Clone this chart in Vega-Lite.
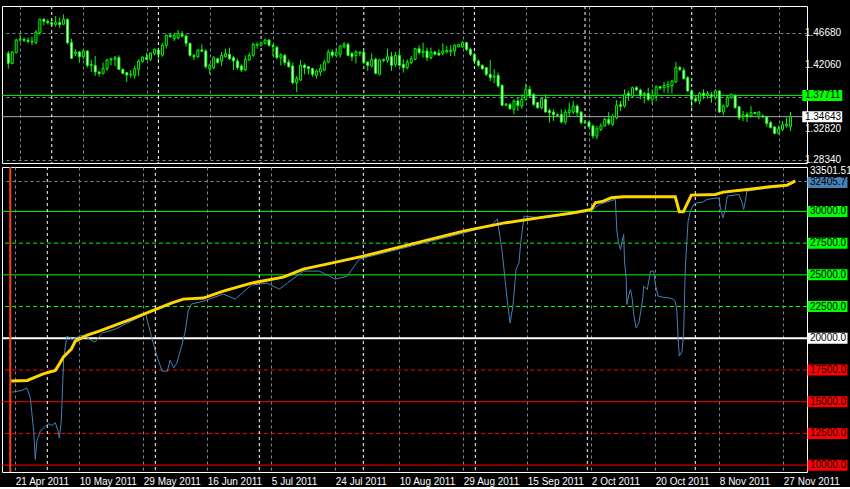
{
"$schema": "https://vega.github.io/schema/vega-lite/v6.json",
"background": "#000000",
"padding": {"left": 0, "top": 5, "right": 0, "bottom": 0},
"spacing": 4,
"bounds": "flush",
"config": {
  "view": {"stroke": "#FFFFFF", "strokeWidth": 1, "fill": "#000000"},
  "font": "Liberation Sans",
  "axis": {"labelFont": "Liberation Sans", "labelFontSize": 10, "labelColor": "#FFFFFF", "domain": false, "ticks": false, "gridColor": "#778899", "gridDash": [3, 3], "gridWidth": 1, "gridOpacity": 1}
},
"resolve": {"scale": {"x": "independent", "y": "independent"}},
"datasets": {
  "candles": [
{"i":-3,"o":1.4378,"h":1.4413,"l":1.4157,"c":1.4234},
{"i":-2,"o":1.4234,"h":1.4413,"l":1.4220,"c":1.4398},
{"i":-1,"o":1.4388,"h":1.4590,"l":1.4378,"c":1.4571},
{"i":0,"o":1.4571,"h":1.4653,"l":1.4542,"c":1.4581},
{"i":1,"o":1.4581,"h":1.4605,"l":1.4542,"c":1.4567},
{"i":2,"o":1.4567,"h":1.4605,"l":1.4523,"c":1.4552},
{"i":3,"o":1.4552,"h":1.4619,"l":1.4494,"c":1.4542},
{"i":4,"o":1.4533,"h":1.4715,"l":1.4509,"c":1.4686},
{"i":5,"o":1.4677,"h":1.4879,"l":1.4638,"c":1.4870},
{"i":6,"o":1.4870,"h":1.4889,"l":1.4783,"c":1.4841},
{"i":7,"o":1.4841,"h":1.4870,"l":1.4798,"c":1.4822},
{"i":8,"o":1.4822,"h":1.4879,"l":1.4773,"c":1.4793},
{"i":9,"o":1.4798,"h":1.4918,"l":1.4763,"c":1.4822},
{"i":10,"o":1.4822,"h":1.4894,"l":1.4744,"c":1.4793},
{"i":11,"o":1.4798,"h":1.4942,"l":1.4788,"c":1.4870},
{"i":12,"o":1.4870,"h":1.4879,"l":1.4509,"c":1.4533},
{"i":13,"o":1.4533,"h":1.4590,"l":1.4301,"c":1.4306},
{"i":14,"o":1.4374,"h":1.4437,"l":1.4340,"c":1.4398},
{"i":15,"o":1.4398,"h":1.4413,"l":1.4244,"c":1.4330},
{"i":16,"o":1.4330,"h":1.4446,"l":1.4292,"c":1.4413},
{"i":17,"o":1.4413,"h":1.4423,"l":1.4172,"c":1.4205},
{"i":18,"o":1.4205,"h":1.4282,"l":1.4109,"c":1.4220},
{"i":19,"o":1.4205,"h":1.4340,"l":1.4052,"c":1.4109},
{"i":20,"o":1.4109,"h":1.4124,"l":1.4042,"c":1.4086},
{"i":21,"o":1.4086,"h":1.4244,"l":1.4076,"c":1.4162},
{"i":22,"o":1.4157,"h":1.4301,"l":1.4124,"c":1.4282},
{"i":23,"o":1.4282,"h":1.4316,"l":1.4205,"c":1.4301},
{"i":24,"o":1.4292,"h":1.4340,"l":1.4196,"c":1.4316},
{"i":25,"o":1.4316,"h":1.4349,"l":1.4138,"c":1.4148},
{"i":26,"o":1.4148,"h":1.4157,"l":1.4076,"c":1.4090},
{"i":27,"o":1.4100,"h":1.4109,"l":1.3964,"c":1.4066},
{"i":28,"o":1.4066,"h":1.4138,"l":1.4028,"c":1.4076},
{"i":29,"o":1.4061,"h":1.4196,"l":1.4013,"c":1.4157},
{"i":30,"o":1.4148,"h":1.4292,"l":1.4052,"c":1.4268},
{"i":31,"o":1.4263,"h":1.4330,"l":1.4244,"c":1.4326},
{"i":32,"o":1.4316,"h":1.4388,"l":1.4282,"c":1.4292},
{"i":33,"o":1.4292,"h":1.4388,"l":1.4268,"c":1.4383},
{"i":34,"o":1.4378,"h":1.4446,"l":1.4349,"c":1.4437},
{"i":35,"o":1.4427,"h":1.4461,"l":1.4268,"c":1.4364},
{"i":36,"o":1.4354,"h":1.4533,"l":1.4330,"c":1.4494},
{"i":37,"o":1.4494,"h":1.4653,"l":1.4446,"c":1.4638},
{"i":38,"o":1.4638,"h":1.4667,"l":1.4605,"c":1.4619},
{"i":39,"o":1.4590,"h":1.4677,"l":1.4557,"c":1.4638},
{"i":40,"o":1.4605,"h":1.4715,"l":1.4581,"c":1.4663},
{"i":41,"o":1.4653,"h":1.4701,"l":1.4605,"c":1.4629},
{"i":42,"o":1.4629,"h":1.4653,"l":1.4475,"c":1.4523},
{"i":43,"o":1.4523,"h":1.4533,"l":1.4330,"c":1.4349},
{"i":44,"o":1.4349,"h":1.4364,"l":1.4282,"c":1.4330},
{"i":45,"o":1.4330,"h":1.4437,"l":1.4316,"c":1.4427},
{"i":46,"o":1.4427,"h":1.4509,"l":1.4398,"c":1.4408},
{"i":47,"o":1.4413,"h":1.4437,"l":1.4157,"c":1.4186},
{"i":48,"o":1.4157,"h":1.4234,"l":1.4076,"c":1.4205},
{"i":49,"o":1.4172,"h":1.4340,"l":1.4148,"c":1.4316},
{"i":50,"o":1.4301,"h":1.4316,"l":1.4234,"c":1.4244},
{"i":51,"o":1.4268,"h":1.4398,"l":1.4196,"c":1.4349},
{"i":52,"o":1.4330,"h":1.4446,"l":1.4316,"c":1.4374},
{"i":53,"o":1.4364,"h":1.4461,"l":1.4282,"c":1.4301},
{"i":54,"o":1.4316,"h":1.4340,"l":1.4138,"c":1.4268},
{"i":55,"o":1.4268,"h":1.4301,"l":1.4138,"c":1.4172},
{"i":56,"o":1.4196,"h":1.4220,"l":1.4109,"c":1.4138},
{"i":57,"o":1.4138,"h":1.4349,"l":1.4124,"c":1.4292},
{"i":58,"o":1.4282,"h":1.4388,"l":1.4268,"c":1.4349},
{"i":59,"o":1.4349,"h":1.4533,"l":1.4330,"c":1.4509},
{"i":60,"o":1.4494,"h":1.4533,"l":1.4446,"c":1.4514},
{"i":61,"o":1.4494,"h":1.4542,"l":1.4475,"c":1.4533},
{"i":62,"o":1.4523,"h":1.4590,"l":1.4509,"c":1.4571},
{"i":63,"o":1.4571,"h":1.4581,"l":1.4475,"c":1.4494},
{"i":64,"o":1.4494,"h":1.4509,"l":1.4340,"c":1.4475},
{"i":65,"o":1.4466,"h":1.4485,"l":1.4292,"c":1.4316},
{"i":66,"o":1.4316,"h":1.4378,"l":1.4205,"c":1.4354},
{"i":67,"o":1.4349,"h":1.4374,"l":1.4205,"c":1.4244},
{"i":68,"o":1.4253,"h":1.4292,"l":1.4172,"c":1.4186},
{"i":69,"o":1.4196,"h":1.4244,"l":1.3931,"c":1.3955},
{"i":70,"o":1.3955,"h":1.4052,"l":1.3820,"c":1.4013},
{"i":71,"o":1.3993,"h":1.4282,"l":1.3979,"c":1.4205},
{"i":72,"o":1.4210,"h":1.4234,"l":1.4076,"c":1.4172},
{"i":73,"o":1.4186,"h":1.4196,"l":1.4076,"c":1.4157},
{"i":74,"o":1.4157,"h":1.4172,"l":1.4042,"c":1.4076},
{"i":75,"o":1.4061,"h":1.4148,"l":1.4013,"c":1.4124},
{"i":76,"o":1.4109,"h":1.4220,"l":1.4052,"c":1.4157},
{"i":77,"o":1.4138,"h":1.4282,"l":1.4124,"c":1.4253},
{"i":78,"o":1.4253,"h":1.4437,"l":1.4234,"c":1.4398},
{"i":79,"o":1.4398,"h":1.4437,"l":1.4316,"c":1.4349},
{"i":80,"o":1.4349,"h":1.4461,"l":1.4330,"c":1.4388},
{"i":81,"o":1.4364,"h":1.4494,"l":1.4316,"c":1.4485},
{"i":82,"o":1.4475,"h":1.4542,"l":1.4446,"c":1.4509},
{"i":83,"o":1.4509,"h":1.4533,"l":1.4340,"c":1.4349},
{"i":84,"o":1.4374,"h":1.4398,"l":1.4268,"c":1.4330},
{"i":85,"o":1.4349,"h":1.4427,"l":1.4234,"c":1.4398},
{"i":86,"o":1.4378,"h":1.4408,"l":1.4340,"c":1.4398},
{"i":87,"o":1.4398,"h":1.4413,"l":1.4220,"c":1.4244},
{"i":88,"o":1.4253,"h":1.4268,"l":1.4124,"c":1.4205},
{"i":89,"o":1.4196,"h":1.4378,"l":1.4172,"c":1.4292},
{"i":90,"o":1.4292,"h":1.4316,"l":1.4076,"c":1.4090},
{"i":91,"o":1.4076,"h":1.4301,"l":1.4061,"c":1.4282},
{"i":92,"o":1.4273,"h":1.4301,"l":1.4253,"c":1.4292},
{"i":93,"o":1.4278,"h":1.4446,"l":1.4244,"c":1.4330},
{"i":94,"o":1.4330,"h":1.4398,"l":1.4124,"c":1.4205},
{"i":95,"o":1.4220,"h":1.4398,"l":1.4186,"c":1.4349},
{"i":96,"o":1.4349,"h":1.4413,"l":1.4196,"c":1.4205},
{"i":97,"o":1.4220,"h":1.4292,"l":1.4100,"c":1.4172},
{"i":98,"o":1.4172,"h":1.4292,"l":1.4148,"c":1.4253},
{"i":99,"o":1.4244,"h":1.4340,"l":1.4220,"c":1.4301},
{"i":100,"o":1.4292,"h":1.4461,"l":1.4282,"c":1.4446},
{"i":101,"o":1.4446,"h":1.4494,"l":1.4364,"c":1.4388},
{"i":102,"o":1.4388,"h":1.4533,"l":1.4316,"c":1.4413},
{"i":103,"o":1.4413,"h":1.4461,"l":1.4268,"c":1.4316},
{"i":104,"o":1.4316,"h":1.4461,"l":1.4292,"c":1.4398},
{"i":105,"o":1.4398,"h":1.4408,"l":1.4349,"c":1.4364},
{"i":106,"o":1.4383,"h":1.4437,"l":1.4340,"c":1.4354},
{"i":107,"o":1.4378,"h":1.4523,"l":1.4349,"c":1.4413},
{"i":108,"o":1.4398,"h":1.4485,"l":1.4378,"c":1.4418},
{"i":109,"o":1.4403,"h":1.4494,"l":1.4340,"c":1.4423},
{"i":110,"o":1.4413,"h":1.4509,"l":1.4340,"c":1.4494},
{"i":111,"o":1.4475,"h":1.4514,"l":1.4466,"c":1.4504},
{"i":112,"o":1.4471,"h":1.4557,"l":1.4461,"c":1.4533},
{"i":113,"o":1.4533,"h":1.4542,"l":1.4413,"c":1.4437},
{"i":114,"o":1.4437,"h":1.4461,"l":1.4340,"c":1.4364},
{"i":115,"o":1.4364,"h":1.4388,"l":1.4220,"c":1.4268},
{"i":116,"o":1.4268,"h":1.4292,"l":1.4186,"c":1.4205},
{"i":117,"o":1.4205,"h":1.4220,"l":1.4138,"c":1.4157},
{"i":118,"o":1.4172,"h":1.4182,"l":1.4052,"c":1.4076},
{"i":119,"o":1.4076,"h":1.4282,"l":1.3979,"c":1.4028},
{"i":120,"o":1.4033,"h":1.4148,"l":1.3945,"c":1.4052},
{"i":121,"o":1.4061,"h":1.4100,"l":1.3883,"c":1.3907},
{"i":122,"o":1.3916,"h":1.3931,"l":1.3618,"c":1.3627},
{"i":123,"o":1.3627,"h":1.3656,"l":1.3618,"c":1.3647},
{"i":124,"o":1.3642,"h":1.3656,"l":1.3560,"c":1.3579},
{"i":125,"o":1.3570,"h":1.3715,"l":1.3498,"c":1.3691},
{"i":126,"o":1.3691,"h":1.3739,"l":1.3546,"c":1.3627},
{"i":127,"o":1.3618,"h":1.3787,"l":1.3579,"c":1.3715},
{"i":128,"o":1.3715,"h":1.3945,"l":1.3691,"c":1.3859},
{"i":129,"o":1.3859,"h":1.3907,"l":1.3753,"c":1.3763},
{"i":130,"o":1.3787,"h":1.3801,"l":1.3618,"c":1.3642},
{"i":131,"o":1.3666,"h":1.3676,"l":1.3579,"c":1.3594},
{"i":132,"o":1.3594,"h":1.3739,"l":1.3570,"c":1.3724},
{"i":133,"o":1.3715,"h":1.3787,"l":1.3522,"c":1.3531},
{"i":134,"o":1.3551,"h":1.3579,"l":1.3378,"c":1.3522},
{"i":135,"o":1.3531,"h":1.3570,"l":1.3402,"c":1.3493},
{"i":136,"o":1.3493,"h":1.3512,"l":1.3474,"c":1.3483},
{"i":137,"o":1.3498,"h":1.3570,"l":1.3368,"c":1.3387},
{"i":138,"o":1.3387,"h":1.3570,"l":1.3354,"c":1.3531},
{"i":139,"o":1.3522,"h":1.3666,"l":1.3474,"c":1.3560},
{"i":140,"o":1.3531,"h":1.3691,"l":1.3498,"c":1.3618},
{"i":141,"o":1.3618,"h":1.3642,"l":1.3474,"c":1.3522},
{"i":142,"o":1.3531,"h":1.3546,"l":1.3354,"c":1.3378},
{"i":143,"o":1.3387,"h":1.3402,"l":1.3368,"c":1.3373},
{"i":144,"o":1.3387,"h":1.3402,"l":1.3306,"c":1.3320},
{"i":145,"o":1.3330,"h":1.3354,"l":1.3146,"c":1.3185},
{"i":146,"o":1.3185,"h":1.3330,"l":1.3137,"c":1.3291},
{"i":147,"o":1.3281,"h":1.3368,"l":1.3257,"c":1.3330},
{"i":148,"o":1.3330,"h":1.3450,"l":1.3320,"c":1.3426},
{"i":149,"o":1.3426,"h":1.3531,"l":1.3339,"c":1.3368},
{"i":150,"o":1.3354,"h":1.3498,"l":1.3330,"c":1.3474},
{"i":151,"o":1.3450,"h":1.3705,"l":1.3426,"c":1.3627},
{"i":152,"o":1.3637,"h":1.3691,"l":1.3546,"c":1.3613},
{"i":153,"o":1.3618,"h":1.3859,"l":1.3594,"c":1.3787},
{"i":154,"o":1.3801,"h":1.3835,"l":1.3691,"c":1.3763},
{"i":155,"o":1.3763,"h":1.3897,"l":1.3739,"c":1.3883},
{"i":156,"o":1.3883,"h":1.3907,"l":1.3835,"c":1.3849},
{"i":157,"o":1.3849,"h":1.3868,"l":1.3715,"c":1.3772},
{"i":158,"o":1.3782,"h":1.3820,"l":1.3656,"c":1.3801},
{"i":159,"o":1.3801,"h":1.3883,"l":1.3691,"c":1.3715},
{"i":160,"o":1.3715,"h":1.3859,"l":1.3642,"c":1.3772},
{"i":161,"o":1.3763,"h":1.3916,"l":1.3691,"c":1.3897},
{"i":162,"o":1.3897,"h":1.3907,"l":1.3849,"c":1.3878},
{"i":163,"o":1.3883,"h":1.3964,"l":1.3811,"c":1.3916},
{"i":164,"o":1.3897,"h":1.3979,"l":1.3801,"c":1.3931},
{"i":165,"o":1.3907,"h":1.3993,"l":1.3801,"c":1.3979},
{"i":166,"o":1.3964,"h":1.4253,"l":1.3955,"c":1.4172},
{"i":167,"o":1.4172,"h":1.4196,"l":1.4124,"c":1.4148},
{"i":168,"o":1.4134,"h":1.4172,"l":1.4003,"c":1.4013},
{"i":169,"o":1.4028,"h":1.4052,"l":1.3820,"c":1.3835},
{"i":170,"o":1.3835,"h":1.3859,"l":1.3594,"c":1.3715},
{"i":171,"o":1.3724,"h":1.3763,"l":1.3666,"c":1.3691},
{"i":172,"o":1.3691,"h":1.3820,"l":1.3642,"c":1.3801},
{"i":173,"o":1.3801,"h":1.3859,"l":1.3715,"c":1.3772},
{"i":174,"o":1.3772,"h":1.3835,"l":1.3724,"c":1.3797},
{"i":175,"o":1.3782,"h":1.3820,"l":1.3666,"c":1.3753},
{"i":176,"o":1.3739,"h":1.3859,"l":1.3715,"c":1.3835},
{"i":177,"o":1.3835,"h":1.3849,"l":1.3522,"c":1.3531},
{"i":178,"o":1.3531,"h":1.3642,"l":1.3483,"c":1.3618},
{"i":179,"o":1.3618,"h":1.3772,"l":1.3594,"c":1.3739},
{"i":180,"o":1.3739,"h":1.3801,"l":1.3724,"c":1.3787},
{"i":181,"o":1.3772,"h":1.3787,"l":1.3579,"c":1.3594},
{"i":182,"o":1.3608,"h":1.3618,"l":1.3416,"c":1.3450},
{"i":183,"o":1.3464,"h":1.3546,"l":1.3402,"c":1.3493},
{"i":184,"o":1.3493,"h":1.3531,"l":1.3387,"c":1.3464},
{"i":185,"o":1.3474,"h":1.3618,"l":1.3450,"c":1.3522},
{"i":186,"o":1.3527,"h":1.3531,"l":1.3498,"c":1.3508},
{"i":187,"o":1.3464,"h":1.3546,"l":1.3426,"c":1.3531},
{"i":188,"o":1.3474,"h":1.3498,"l":1.3450,"c":1.3460},
{"i":189,"o":1.3460,"h":1.3474,"l":1.3320,"c":1.3368},
{"i":190,"o":1.3378,"h":1.3402,"l":1.3291,"c":1.3306},
{"i":191,"o":1.3316,"h":1.3330,"l":1.3209,"c":1.3223},
{"i":192,"o":1.3223,"h":1.3339,"l":1.3209,"c":1.3291},
{"i":193,"o":1.3281,"h":1.3402,"l":1.3257,"c":1.3349},
{"i":194,"o":1.3330,"h":1.3450,"l":1.3306,"c":1.3354},
{"i":195,"o":1.3320,"h":1.3531,"l":1.3257,"c":1.3464}
  ],
  "balance": [
{"t":-1,"v":16623},{"t":3,"v":16678},{"t":5,"v":16938},{"t":7,"v":17198},{"t":10,"v":17466},{"t":11,"v":17963},{"t":12,"v":18514},{"t":14,"v":19145},{"t":15,"v":19776},{"t":18,"v":20249},{"t":21,"v":20564},{"t":29,"v":21510},{"t":34,"v":22141},{"t":39,"v":22771},{"t":42,"v":23087},{"t":47,"v":23166},{"t":52,"v":23717},{"t":59,"v":24348},{"t":67,"v":24821},{"t":72,"v":25452},{"t":79,"v":25925},{"t":87,"v":26476},{"t":97,"v":27265},{"t":104,"v":27816},{"t":112,"v":28447},{"t":122,"v":29078},{"t":132,"v":29551},{"t":139,"v":29866},{"t":144,"v":30158},{"t":145,"v":30678},{"t":147,"v":30812},{"t":149,"v":31072},{"t":152,"v":31151},{"t":165,"v":31151},{"t":166,"v":29968},{"t":167,"v":29968},{"t":169,"v":31285},{"t":175,"v":31340},{"t":177,"v":31521},{"t":183,"v":31734},{"t":188,"v":31916},{"t":193,"v":32073},{"t":195,"v":32405.7}
  ],
  "equity": [
{"t":-0.8,"v":15756},{"t":1.7,"v":15889},{"t":2.9,"v":16094},{"t":3.75,"v":15306},{"t":4.6,"v":12681},{"t":5.0,"v":10450},{"t":5.4,"v":11893},{"t":6.25,"v":12681},{"t":7.5,"v":13075},{"t":8.35,"v":13257},{"t":9.2,"v":13130},{"t":10,"v":13335},{"t":10.7,"v":12681},{"t":11,"v":12153},{"t":11.5,"v":13469},{"t":12.1,"v":18459},{"t":12.9,"v":20170},{"t":14.2,"v":19910},{"t":16.7,"v":20249},{"t":19.9,"v":19697},{"t":21.7,"v":20406},{"t":25,"v":20722},{"t":29,"v":21352},{"t":32.6,"v":21904},{"t":34,"v":20170},{"t":35.4,"v":18593},{"t":36.7,"v":17411},{"t":38,"v":17411},{"t":38.7,"v":18278},{"t":39.6,"v":17671},{"t":40.4,"v":18065},{"t":41.7,"v":19539},{"t":42.5,"v":20564},{"t":43.2,"v":22141},{"t":44,"v":22692},{"t":47,"v":22929},{"t":52,"v":23481},{"t":55,"v":23087},{"t":59,"v":24190},{"t":63,"v":24348},{"t":66,"v":23875},{"t":68,"v":24348},{"t":72,"v":25294},{"t":76,"v":25294},{"t":80,"v":24663},{"t":83,"v":24900},{"t":86,"v":26240},{"t":90,"v":26555},{"t":97,"v":27107},{"t":104,"v":27659},{"t":112,"v":28290},{"t":119,"v":28920},{"t":120.5,"v":29393},{"t":121.7,"v":26870},{"t":123,"v":22929},{"t":123.7,"v":21195},{"t":124.4,"v":22535},{"t":125.2,"v":25452},{"t":125.9,"v":25925},{"t":126.4,"v":27659},{"t":127.2,"v":29629},{"t":132,"v":29472},{"t":139,"v":29787},{"t":143.7,"v":30024},{"t":145,"v":30284},{"t":146,"v":30552},{"t":150,"v":30946},{"t":150.4,"v":28447},{"t":150.8,"v":27525},{"t":151.3,"v":27004},{"t":151.7,"v":27659},{"t":152.1,"v":28187},{"t":152.3,"v":26082},{"t":152.7,"v":24766},{"t":152.9,"v":22669},{"t":153.4,"v":23457},{"t":153.8,"v":23851},{"t":154.2,"v":23189},{"t":154.6,"v":21881},{"t":155.2,"v":20824},{"t":155.9,"v":21218},{"t":156.5,"v":22401},{"t":156.9,"v":23189},{"t":157.1,"v":24111},{"t":158,"v":23851},{"t":158.8,"v":25294},{"t":159.6,"v":25294},{"t":160,"v":24245},{"t":160.7,"v":23323},{"t":161.7,"v":23244},{"t":163.4,"v":23189},{"t":164.6,"v":23063},{"t":165,"v":22874},{"t":165.4,"v":22141},{"t":165.7,"v":20036},{"t":166,"v":18593},{"t":166.7,"v":18987},{"t":167.1,"v":20564},{"t":167.5,"v":25554},{"t":168.2,"v":29235},{"t":168.8,"v":30024},{"t":169.6,"v":30552},{"t":170.4,"v":30678},{"t":172.1,"v":30757},{"t":172.9,"v":30946},{"t":175.9,"v":31072},{"t":176.3,"v":30284},{"t":176.9,"v":29495},{"t":177.4,"v":30024},{"t":178,"v":31206},{"t":180.9,"v":31340},{"t":181.7,"v":30678},{"t":182.1,"v":30158},{"t":182.5,"v":30812},{"t":182.9,"v":31600},{"t":188,"v":31837},{"t":193,"v":31994},{"t":195,"v":32310}
  ],
  "seps": [{"i":8},{"i":35},{"i":61},{"i":87},{"i":115},{"i":143},{"i":170}],
  "levels": [{"level":30000},{"level":27500},{"level":25000},{"level":22500},{"level":20000},{"level":17500},{"level":15000},{"level":12500},{"level":10000}],
  "pricelines": [{"price":1.37711,"kind":"line"},{"price":1.34643,"kind":"bid"}],
  "pricescale": [{"p":1.2834},{"p":1.3282},{"p":1.4206},{"p":1.4668}],
  "current": [{"value":32405.7}],
  "maxval": [{"value":33501.51}]
},
"vconcat": [
{
  "width": 805, "height": 157,
  "layer": [
    {
      "data": {"name": "candles"},
      "mark": {"type": "rule", "color": "#00FF00", "strokeWidth": 1, "clip": true},
      "encoding": {
        "x": {"field": "i", "type": "quantitative", "scale": {"domain": [-3.325, 197.925], "nice": false, "zero": false},
              "axis": {"title": null, "orient": "bottom", "values": [0,8,16,24,32,40,48,56,64,72,80,88,96,104,112,120,128,136,144,152,160,168,176,184,192], "grid": true, "labels": false, "ticks": false, "domain": false}},
        "y": {"field": "h", "type": "quantitative", "scale": {"domain": [1.27954, 1.50621], "nice": false, "zero": false},
              "axis": {"title": null, "orient": "right", "values": [1.2834, 1.3282, 1.3744, 1.4206, 1.4668], "grid": true, "labels": false}},
        "y2": {"field": "l"}
      }
    },
    {
      "data": {"name": "pricelines"},
      "mark": {"type": "rule", "strokeWidth": 1},
      "encoding": {
        "y": {"field": "price", "type": "quantitative", "axis": {"title": null}},
        "color": {"condition": {"test": "datum.kind == 'line'", "value": "#00FF00"}, "value": "#A9A9A9"}
      }
    },
    {
      "data": {"name": "seps"},
      "mark": {"type": "rule", "color": "#FFFFFF", "strokeDash": [3, 3], "strokeWidth": 1},
      "encoding": {"x": {"field": "i", "type": "quantitative", "axis": {"title": null}}}
    },
    {
      "data": {"name": "candles"},
      "mark": {"type": "bar", "size": 2, "stroke": "#00FF00", "strokeWidth": 1, "clip": true},
      "encoding": {
        "x": {"field": "i", "type": "quantitative", "axis": {"title": null}},
        "y": {"field": "o", "type": "quantitative", "axis": {"title": null}},
        "y2": {"field": "c"},
        "fill": {"condition": {"test": "datum.c < datum.o", "value": "#FFFFFF"}, "value": "#000000"}
      }
    },
    {
      "data": {"name": "pricescale"},
      "mark": {"type": "text", "align": "left", "baseline": "middle", "fontSize": 10, "color": "#FFFFFF", "font": "Liberation Sans"},
      "encoding": {
        "x": {"datum": 198.675, "type": "quantitative", "axis": {"title": null}},
        "y": {"field": "p", "type": "quantitative", "axis": {"title": null}},
        "text": {"field": "p", "type": "quantitative", "format": ".5f"}
      }
    },
    {
      "data": {"name": "pricelines"},
      "mark": {"type": "tick", "orient": "horizontal", "size": 40, "thickness": 11, "opacity": 1},
      "encoding": {
        "x": {"datum": 203.05, "type": "quantitative", "axis": {"title": null}},
        "y": {"field": "price", "type": "quantitative", "axis": {"title": null}},
        "color": {"condition": {"test": "datum.kind == 'line'", "value": "#00FF00"}, "value": "#FFFFFF"}
      }
    },
    {
      "data": {"name": "pricelines"},
      "mark": {"type": "text", "align": "left", "baseline": "middle", "fontSize": 10, "color": "#000000", "font": "Liberation Sans"},
      "encoding": {
        "x": {"datum": 198.675, "type": "quantitative", "axis": {"title": null}},
        "y": {"field": "price", "type": "quantitative", "axis": {"title": null}},
        "text": {"field": "price", "type": "quantitative", "format": ".5f"}
      }
    }
  ]
},
{
  "width": 805, "height": 305,
  "layer": [
    {
      "data": {"name": "equity"},
      "mark": {"type": "line", "color": "#4682B4", "strokeWidth": 1, "clip": true, "opacity": 0},
      "encoding": {
        "x": {"field": "t", "type": "quantitative", "scale": {"domain": [-3.325, 197.925], "nice": false, "zero": false},
              "axis": {"title": null, "orient": "bottom", "values": [0,8,16,24,32,40,48,56,64,72,80,88,96,104,112,120,128,136,144,152,160,168,176,184,192], "grid": true, "labels": true, "ticks": false, "domain": false,
                       "labelAlign": "left", "labelBaseline": "top", "labelPadding": 4, "labelFlush": false, "labelOverlap": false, "labelBound": false,
                       "labelExpr": "datum.value % 16 == 0 ? ['21 Apr 2011','10 May 2011','29 May 2011','16 Jun 2011','5 Jul 2011','24 Jul 2011','10 Aug 2011','29 Aug 2011','15 Sep 2011','2 Oct 2011','20 Oct 2011','8 Nov 2011','27 Nov 2011'][datum.value / 16] : ''"}},
        "y": {"field": "v", "type": "quantitative", "scale": {"domain": [9458.4, 33501.51], "nice": false, "zero": false},
              "axis": {"title": null, "orient": "right", "values": [32405.7], "grid": true, "labels": false}}
      }
    },
    {
      "data": {"name": "levels"},
      "mark": {"type": "rule"},
      "encoding": {
        "y": {"field": "level", "type": "quantitative", "axis": {"title": null}},
        "color": {"condition": [{"test": "datum.level > 20000", "value": "#00FF00"}, {"test": "datum.level == 20000", "value": "#FFFFFF"}], "value": "#FF0000"},
        "strokeDash": {"condition": {"test": "datum.level % 5000 != 0", "value": [4, 3]}, "value": [1, 0]},
        "strokeWidth": {"condition": {"test": "datum.level == 20000", "value": 2}, "value": 1}
      }
    },
    {
      "data": {"name": "seps"},
      "mark": {"type": "rule", "color": "#FFFFFF", "strokeDash": [3, 3], "strokeWidth": 1},
      "encoding": {"x": {"field": "i", "type": "quantitative", "axis": {"title": null}}}
    },
    {
      "data": {"values": [{}]},
      "mark": {"type": "rule", "color": "#FF4500", "strokeWidth": 2},
      "encoding": {"x": {"datum": -1.25, "type": "quantitative", "axis": {"title": null}}}
    },
    {
      "data": {"name": "equity"},
      "mark": {"type": "line", "color": "#4682B4", "strokeWidth": 1, "clip": true},
      "encoding": {
        "x": {"field": "t", "type": "quantitative", "axis": {"title": null}},
        "y": {"field": "v", "type": "quantitative", "axis": {"title": null}}
      }
    },
    {
      "data": {"name": "balance"},
      "mark": {"type": "line", "color": "#FFD700", "strokeWidth": 3, "clip": true},
      "encoding": {
        "x": {"field": "t", "type": "quantitative", "axis": {"title": null}},
        "y": {"field": "v", "type": "quantitative", "axis": {"title": null}}
      }
    },
    {
      "data": {"name": "maxval"},
      "mark": {"type": "text", "align": "left", "baseline": "top", "dy": -1, "fontSize": 10, "color": "#FFFFFF", "font": "Liberation Sans"},
      "encoding": {
        "x": {"datum": 198.675, "type": "quantitative", "axis": {"title": null}},
        "y": {"field": "value", "type": "quantitative", "axis": {"title": null}},
        "text": {"field": "value", "type": "quantitative", "format": ".2f"}
      }
    },
    {
      "data": {"name": "levels"},
      "mark": {"type": "tick", "orient": "horizontal", "size": 40, "thickness": 11, "opacity": 1},
      "encoding": {
        "x": {"datum": 203.05, "type": "quantitative", "axis": {"title": null}},
        "y": {"field": "level", "type": "quantitative", "axis": {"title": null}},
        "color": {"condition": [{"test": "datum.level > 20000", "value": "#00FF00"}, {"test": "datum.level == 20000", "value": "#FFFFFF"}], "value": "#FF0000"}
      }
    },
    {
      "data": {"name": "levels"},
      "mark": {"type": "text", "align": "left", "baseline": "middle", "fontSize": 10, "color": "#000000", "font": "Liberation Sans"},
      "encoding": {
        "x": {"datum": 198.675, "type": "quantitative", "axis": {"title": null}},
        "y": {"field": "level", "type": "quantitative", "axis": {"title": null}},
        "text": {"field": "level", "type": "quantitative", "format": ".1f"}
      }
    },
    {
      "data": {"name": "current"},
      "mark": {"type": "tick", "orient": "horizontal", "size": 40, "thickness": 11, "opacity": 1, "color": "#4682B4", "yOffset": 1.5},
      "encoding": {
        "x": {"datum": 203.05, "type": "quantitative", "axis": {"title": null}},
        "y": {"field": "value", "type": "quantitative", "axis": {"title": null}}
      }
    },
    {
      "data": {"name": "current"},
      "mark": {"type": "text", "align": "left", "baseline": "middle", "dy": 1.5, "fontSize": 10, "color": "#000000", "font": "Liberation Sans"},
      "encoding": {
        "x": {"datum": 198.675, "type": "quantitative", "axis": {"title": null}},
        "y": {"field": "value", "type": "quantitative", "axis": {"title": null}},
        "text": {"field": "value", "type": "quantitative", "format": ".1f"}
      }
    }
  ]
}
]
}
